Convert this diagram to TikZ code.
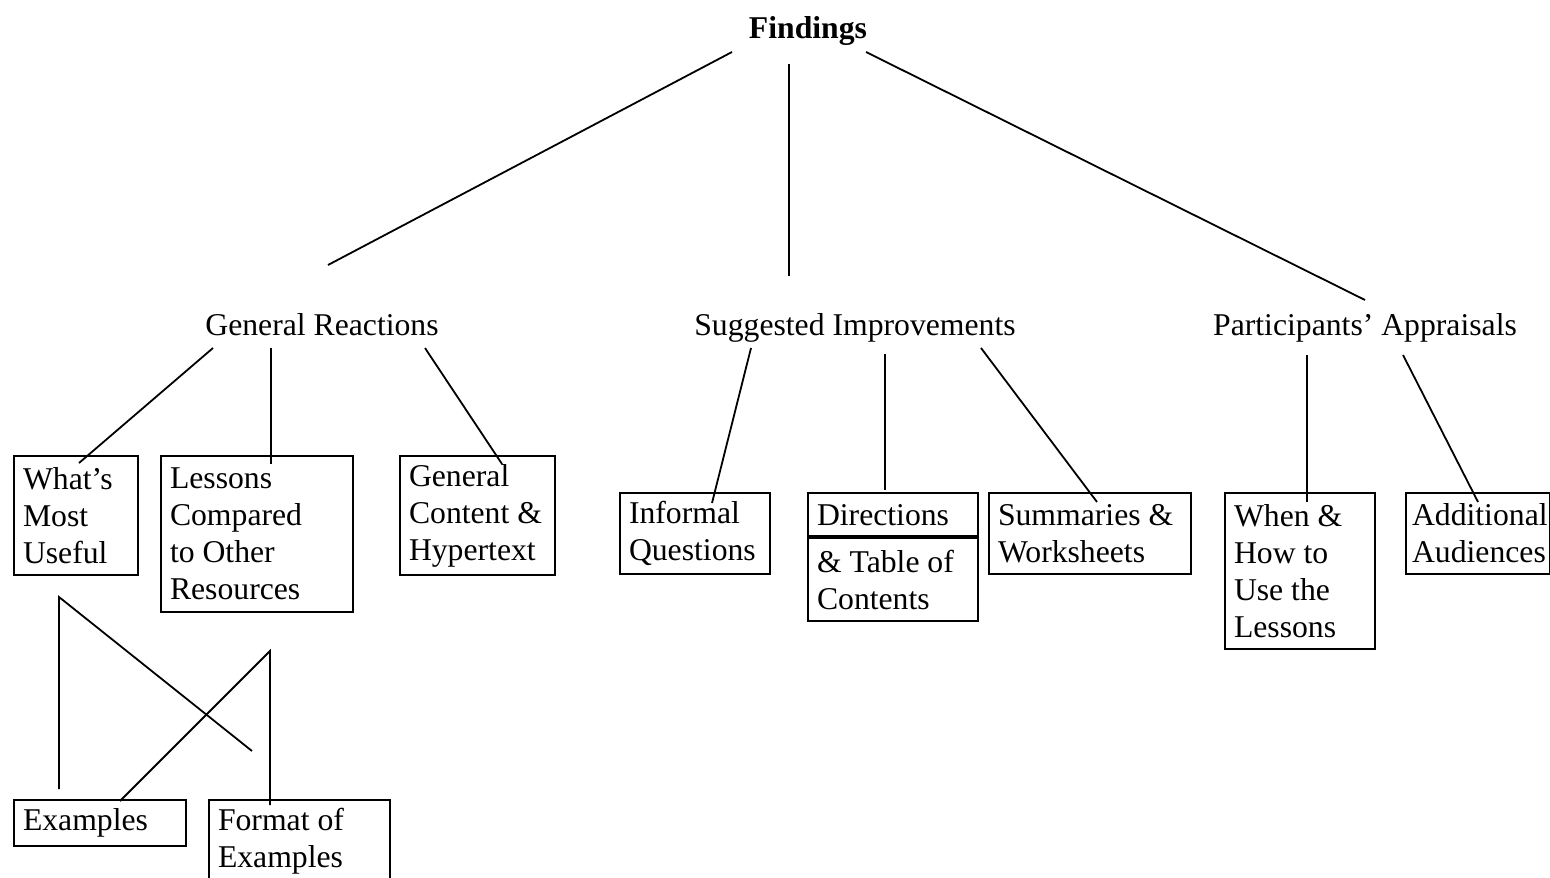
\documentclass[tikz,border=0pt]{standalone}
\usepackage{fontspec}
\setmainfont{Liberation Serif}
\newcommand{\fsz}{\fontsize{15.85pt}{18.5pt}\selectfont}
\begin{document}
\begin{tikzpicture}[x=0.5pt, y=-0.5pt,
  box/.style={draw, line width=1pt, anchor=north west, align=flush left,
    inner xsep=4.5pt, inner ysep=0pt, font=\fsz},
  head/.style={anchor=base, inner sep=0pt, font=\fsz},
  link/.style={line width=0.9pt}]
	\useasboundingbox (0,0) rectangle (1550,877);
	
	% Headings
	\node[head, font=\fsz\bfseries] (findings) at (808,39) {Findings};
	\node[head] (reactions) at (322,335) {General Reactions};
	\node[head] (improve) at (855,335) {Suggested Improvements};
	\node[head] (appraise) at (1365,335) {Participants' Appraisals};
	
	% Boxes under General Reactions
	\node[box, minimum width=62pt, text width=53pt, minimum height=59.5pt] (useful) at (13,455) {What's\\Most\\Useful};
	\node[box, minimum width=96pt, text width=87pt, minimum height=78pt] (lessons) at (160,455) {Lessons\\Compared\\to Other\\Resources};
	\node[box, minimum width=77.5pt, text width=68.5pt, minimum height=59.5pt] (content) at (399,455) {General\\Content \&\\Hypertext};
	
	% Boxes under Suggested Improvements
	\node[box, minimum width=75pt, text width=66pt, minimum height=40.5pt] (informal) at (619,492) {Informal\\Questions};
	\node[box, minimum width=85pt, text width=76pt, minimum height=22.5pt] (dirtop) at (807,492) {Directions};
	\node[box, minimum width=85pt, text width=76pt, minimum height=41.5pt] (dirbot) at (807,537) {\& Table of\\Contents};
	\draw[line width=2pt] (dirbot.north west) -- (dirbot.north east);
	\node[box, minimum width=101pt, text width=92pt, minimum height=40.5pt] (summary) at (988,492) {Summaries \&\\Worksheets};
	
	% Boxes under Participants' Appraisals
	\node[box, minimum width=75pt, text width=66pt, minimum height=78pt] (whenhow) at (1224,492) {When \&\\How to\\Use the\\Lessons};
	\node[box, minimum width=72pt, text width=66pt, inner xsep=3pt, minimum height=40.5pt] (audience) at (1405,492) {Additional\\Audiences};
	
	% Boxes at the bottom
	\node[box, minimum width=86pt, text width=77pt, minimum height=23pt] (examples) at (13,799) {Examples};
	\node[box, minimum width=90.5pt, text width=81.5pt, minimum height=41pt] (format) at (208,799) {Format of\\Examples};
	
	% End points of the lines
	\coordinate (fA) at (732,52);
	\coordinate (fB) at (789,64);
	\coordinate (fC) at (866,52);
	\coordinate (rT) at (328,265);
	\coordinate (iT) at (789,276);
	\coordinate (aT) at (1365,300);
	
	\coordinate (rA) at (213,348);
	\coordinate (rB) at (271,348);
	\coordinate (rC) at (425,348);
	\coordinate (usefulT) at (79,463);
	\coordinate (lessonsT) at (271,464);
	\coordinate (contentT) at (502,464);
	
	\coordinate (iA) at (751,348);
	\coordinate (iB) at (885,354);
	\coordinate (iC) at (981,348);
	\coordinate (informalT) at (712,503);
	\coordinate (dirT) at (885,490);
	\coordinate (summaryT) at (1097,502);
	
	\coordinate (aA) at (1307,355);
	\coordinate (aB) at (1403,355);
	\coordinate (whenT) at (1307,502);
	\coordinate (audienceT) at (1478,502);
	
	\coordinate (xA) at (59,597);
	\coordinate (xB) at (270,651);
	\coordinate (examplesT) at (59,789);
	\coordinate (crossT) at (252,751);
	\coordinate (formatT) at (270,805);
	\coordinate (examplesR) at (120,801);
	
	% Lines
	\draw[link] (fA) -- (rT);
	\draw[link] (fB) -- (iT);
	\draw[link] (fC) -- (aT);
	
	\draw[link] (rA) -- (usefulT);
	\draw[link] (rB) -- (lessonsT);
	\draw[link] (rC) -- (contentT);
	
	\draw[link] (iA) -- (informalT);
	\draw[link] (iB) -- (dirT);
	\draw[link] (iC) -- (summaryT);
	
	\draw[link] (aA) -- (whenT);
	\draw[link] (aB) -- (audienceT);
	
	\draw[link] (examplesT) -- (xA) -- (crossT);
	\draw[link] (formatT) -- (xB) -- (examplesR);
\end{tikzpicture}
\end{document}
